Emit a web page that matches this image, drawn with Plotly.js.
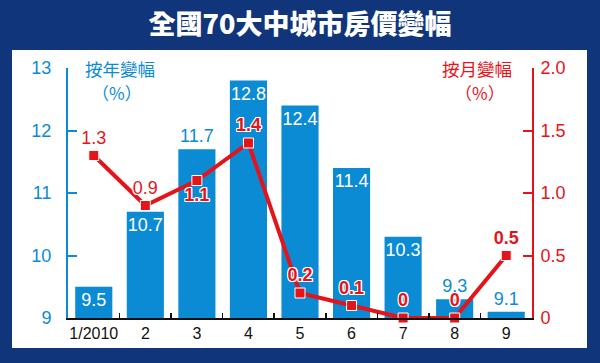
<!DOCTYPE html>
<html><head><meta charset="utf-8">
<script src="https://cdn.plot.ly/plotly-3.0.1.min.js"></script>
<style>html,body{margin:0;padding:0;background:#10357a;}#c{width:600px;height:363px;}</style>
</head><body><div id="c"></div>
<script>
const categories = ['1/2010','2','3','4','5','6','7','8','9'];
const yearlyChange = [9.5, 10.7, 11.7, 12.8, 12.4, 11.4, 10.3, 9.3, 9.1];
const monthlyChange = [1.3, 0.9, 1.1, 1.4, 0.2, 0.1, 0, 0, 0.5];
const leftTicks = [9, 10, 11, 12, 13];
const rightTicks = [0, 0.5, 1.0, 1.5, 2.0];
const rightTickText = ['0', '0.5', '1.0', '1.5', '2.0'];

const BLUE = '#0b8bd3', RED = '#e5141b', NAVY = '#10357a';
const LAT = 'Liberation Sans, Arial, sans-serif';
const CJK = 'Noto Sans CJK TC, sans-serif';
const outline = '-1px -1px 0 #fff, 1px -1px 0 #fff, -1px 1px 0 #fff, 1px 1px 0 #fff, 0 1px 0 #fff, 0 -1px 0 #fff, 1px 0 0 #fff, -1px 0 0 #fff';

const bars = {
  type: 'bar', x: categories, y: yearlyChange, yaxis: 'y',
  marker: {color: BLUE},
  text: yearlyChange.map(v => v.toFixed(1)),
  textposition: ['inside','inside','outside','inside','inside','inside','inside','outside','outside'],
  insidetextanchor: 'end', constraintext: 'none',
  insidetextfont: {color: '#fff', size: 18, family: LAT},
  outsidetextfont: {color: BLUE, size: 18, family: LAT},
  textangle: 0, cliponaxis: false, hoverinfo: 'none'
};
const line = {
  type: 'scatter', mode: 'lines+markers+text', x: categories, y: monthlyChange, yaxis: 'y2',
  line: {color: RED, width: 4},
  marker: {symbol: 'square', size: 10, color: RED, line: {color: '#fff', width: 1}},
  text: monthlyChange.map(v => String(v)),
  textposition: ['top center','top center','bottom center','top center','top center','top center','top center','top center','top center'],
  textfont: {color: RED, size: 18, family: LAT,
    weight: ['normal','normal','bold','bold','bold','bold','bold','bold','bold'],
    shadow: outline},
  cliponaxis: false, hoverinfo: 'none'
};

const layout = {
  width: 600, height: 363,
  margin: {l: 68, r: 68, t: 68, b: 45},
  paper_bgcolor: NAVY, plot_bgcolor: 'rgba(0,0,0,0)',
  showlegend: false, bargap: 0.28,
  title: {text: '全國70大中城市房價變幅', x: 0.5, xanchor: 'center', y: 1 - 25/363, yanchor: 'middle', yref: 'container',
    font: {family: CJK, size: 27, color: '#fff', weight: 900}},
  xaxis: {type: 'category', range: [-0.5, 8.5], tickson: 'boundaries', ticks: 'inside', ticklen: 5, tickwidth: 1.5, tickcolor: '#111',
    showline: true, linecolor: '#111', linewidth: 1.5, showgrid: false, zeroline: false, tickangle: 0,
    tickfont: {family: LAT, size: 16, color: '#111'}},
  yaxis: {range: [9, 13], tickvals: leftTicks, ticks: 'inside', ticklen: 9, tickwidth: 2, tickcolor: BLUE,
    showline: true, linecolor: BLUE, linewidth: 2, showgrid: false, zeroline: false, ticklabelstandoff: 11,
    tickfont: {family: LAT, size: 18, color: BLUE}},
  yaxis2: {range: [0, 2], overlaying: 'y', side: 'right', tickvals: rightTicks, ticktext: rightTickText,
    ticks: 'inside', ticklen: 9, tickwidth: 2, tickcolor: RED,
    showline: true, linecolor: RED, linewidth: 2, showgrid: false, zeroline: false, ticklabelstandoff: 3,
    tickfont: {family: LAT, size: 18, color: RED}},
  shapes: [{type: 'rect', xref: 'paper', yref: 'paper', x0: (12-68)/464, x1: (587-68)/464, y0: (318-348)/250, y1: (318-50)/250,
    fillcolor: '#fff', line: {width: 0}, layer: 'below'}],
  annotations: [
    {xref: 'paper', yref: 'paper', x: (83-68)/464, y: 1, xanchor: 'left', yanchor: 'middle', text: '按年變幅', showarrow: false,
      font: {family: CJK, size: 17.5, color: BLUE}},
    {xref: 'paper', yref: 'paper', x: (117-68)/464, y: (318-92)/250, xanchor: 'center', yanchor: 'middle', text: '（%）', showarrow: false,
      font: {family: CJK, size: 17, color: BLUE}},
    {xref: 'paper', yref: 'paper', x: (514-68)/464, y: 1, xanchor: 'right', yanchor: 'middle', text: '按月變幅', showarrow: false,
      font: {family: CJK, size: 17.5, color: RED}},
    {xref: 'paper', yref: 'paper', x: (480-68)/464, y: (318-92)/250, xanchor: 'center', yanchor: 'middle', text: '（%）', showarrow: false,
      font: {family: CJK, size: 17, color: RED}}
  ]
};
Plotly.newPlot('c', [bars, line], layout, {staticPlot: true, displayModeBar: false});
</script></body></html>
